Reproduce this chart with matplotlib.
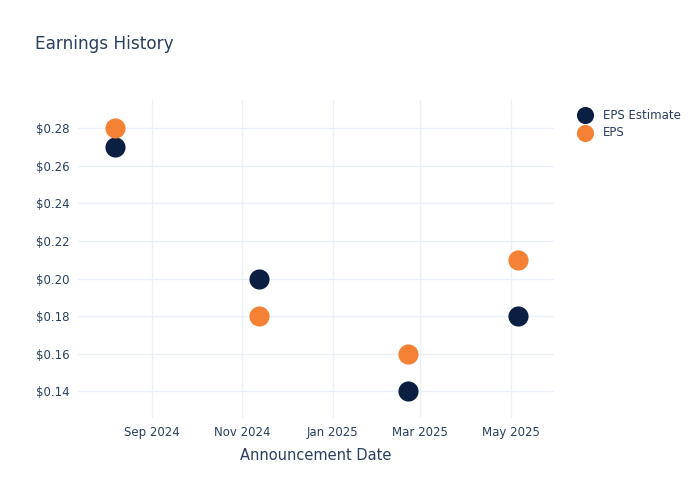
import matplotlib
matplotlib.use("Agg")
from matplotlib import pyplot as plt
import matplotlib.dates as mdates
from matplotlib.ticker import FuncFormatter
import numpy as np

dates = np.array(['2024-08-07', '2024-11-12', '2025-02-21', '2025-05-06'], dtype='datetime64[D]')
eps_estimate = [0.27, 0.20, 0.14, 0.18]
eps_actual = [0.28, 0.18, 0.16, 0.21]

navy = '#0b1f42'
orange = '#f58134'
txt = '#2a3f5f'
grid = '#ebf0f8'

fig = plt.figure(figsize=(7, 5), dpi=100)
ax = fig.add_axes([0.111, 0.164, 0.68, 0.636])

ax.scatter(dates, eps_estimate, s=210, color=navy, label='EPS Estimate', zorder=3, linewidths=0)
ax.scatter(dates, eps_actual, s=210, color=orange, label='EPS', zorder=3, linewidths=0)

ax.set_xlim(np.datetime64('2024-07-13'), np.datetime64('2025-05-30'))
ax.set_ylim(0.1258, 0.2951)

ax.xaxis.set_major_locator(mdates.MonthLocator(bymonth=[1, 3, 5, 7, 9, 11]))
ax.xaxis.set_major_formatter(mdates.DateFormatter('%b %Y'))
ax.set_yticks([0.14, 0.16, 0.18, 0.20, 0.22, 0.24, 0.26, 0.28])
ax.yaxis.set_major_formatter(FuncFormatter(lambda v, p: f'${v:.2f}'))

ax.grid(True, color=grid, linewidth=1)
ax.set_axisbelow(True)
for sp in ax.spines.values():
    sp.set_visible(False)
ax.tick_params(length=0, labelsize=8.5, labelcolor=txt, pad=6)

ax.set_xlabel('Announcement Date', fontsize=10.5, color=txt, labelpad=6)
fig.text(0.05, 0.912, 'Earnings History', fontsize=12.2, color=txt, va='center')

leg = ax.legend(loc='upper left', bbox_to_anchor=(1.03, 0.988), frameon=False,
                fontsize=8.5, labelcolor=txt, handletextpad=0.55, borderaxespad=0,
                labelspacing=0.42, markerscale=0.85)

fig.savefig('out.png', dpi=100)
